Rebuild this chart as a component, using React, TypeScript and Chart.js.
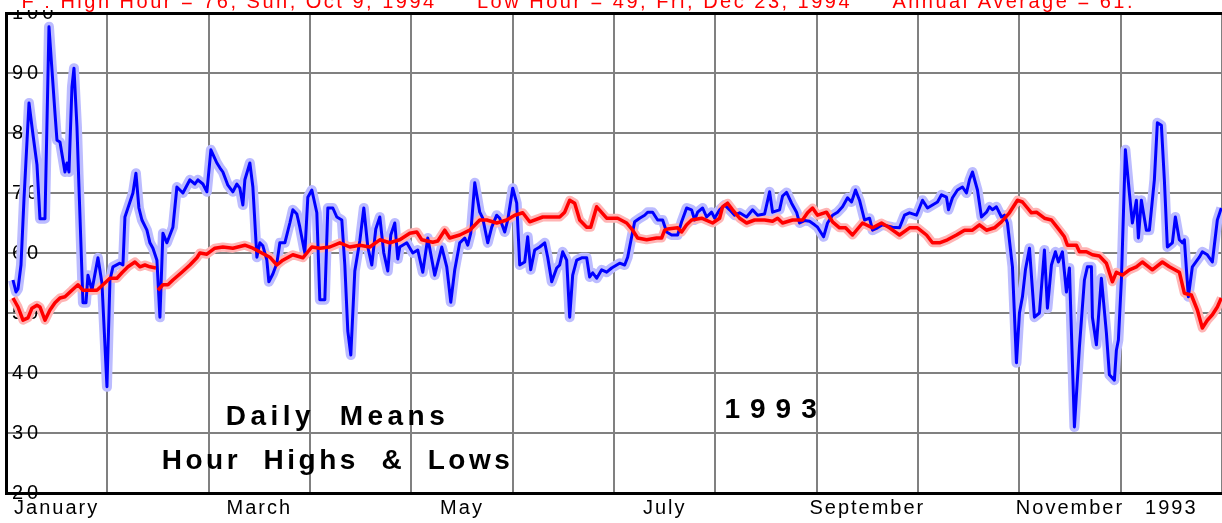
import React, { useEffect, useRef } from 'react';
import { Chart, registerables } from 'chart.js';

Chart.register(...registerables);

// ---------- data ----------
const monthLabels = ['January', '', 'March', '', 'May', '', 'July', '', 'September', '', 'November', '1993'];
const yMin = 20;
const yMax = 100;
const yStep = 10;
const daysInYear = 365;

const titleText =
  '°F : High Hour = 76, Sun, Oct 9, 1994     Low Hour = 49, Fri, Dec 23, 1994     Annual Average = 61.';

// daily means (blue) : day of year / temperature
const meanDays = [
  2.1, 3.0, 3.6, 4.5, 5.4, 6.9, 8.1, 9.3, 10.2, 11.7,
  12.9, 14.7, 15.3, 16.2, 17.1, 17.7, 18.3, 18.9, 19.8, 20.4,
  21.3, 21.9, 23.1, 24.0, 24.6, 25.8, 27.6, 28.8, 30.3, 31.2,
  32.1, 34.2, 35.1, 35.7, 37.2, 38.1, 39.0, 39.9, 40.8, 42.3,
  43.2, 44.1, 45.3, 46.2, 47.1, 48.3, 50.1, 51.3, 53.1, 55.2,
  56.7, 57.6, 59.1, 60.3, 61.5, 63.3, 64.2, 65.1, 66.6, 68.1,
  69.3, 70.2, 71.1, 71.7, 73.2, 74.1, 75.3, 76.2, 77.1, 78.3,
  78.9, 80.1, 81.3, 82.2, 83.7, 85.2, 86.1, 87.3, 88.2, 89.7,
  90.6, 91.8, 93.3, 94.2, 95.7, 96.6, 98.1, 99.3, 100.8, 101.7,
  102.6, 103.5, 104.7, 106.2, 107.4, 108.6, 109.8, 111.0, 112.2, 113.4,
  114.6, 115.5, 116.7, 117.6, 118.2, 120.3, 122.1, 123.6, 125.1, 126.6,
  128.7, 130.8, 132.3, 133.5, 134.7, 136.2, 137.7, 138.6, 139.5, 140.7,
  142.2, 143.1, 144.6, 145.8, 147.3, 148.2, 149.7, 150.6, 152.1, 153.3,
  154.2, 155.7, 156.6, 157.5, 158.7, 160.2, 161.7, 162.6, 163.8, 165.3,
  166.2, 167.1, 168.3, 169.2, 170.1, 171.3, 172.8, 174.3, 175.2, 176.1,
  177.3, 178.8, 180.3, 181.8, 183.3, 184.2, 185.7, 186.6, 187.8, 188.7,
  190.2, 191.7, 192.6, 194.1, 195.6, 197.1, 198.3, 199.8, 201.6, 202.8,
  204.3, 205.8, 206.7, 207.6, 209.1, 210.3, 211.8, 212.7, 214.2, 215.7,
  217.2, 218.7, 220.2, 222.3, 224.1, 225.6, 227.7, 229.2, 230.1, 232.2,
  233.1, 234.3, 235.8, 237.3, 238.2, 239.7, 241.2, 242.7, 243.6, 245.4,
  246.6, 248.1, 249.6, 251.1, 252.6, 253.8, 255.0, 256.2, 257.7, 259.2,
  260.1, 261.6, 263.1, 264.6, 266.1, 268.2, 269.7, 271.2, 273.3, 275.1,
  276.6, 278.1, 279.6, 280.8, 282.3, 282.9, 284.1, 285.6, 287.1, 288.3,
  289.2, 290.1, 291.6, 292.8, 294.3, 295.2, 296.1, 297.3, 298.8, 299.7,
  300.6, 302.1, 303.3, 304.2, 305.1, 306.0, 307.2, 308.7, 310.2, 311.7,
  312.6, 313.8, 315.0, 315.9, 317.1, 318.3, 319.2, 320.7, 322.2, 323.7,
  324.6, 325.8, 326.1, 327.3, 328.8, 330.3, 331.2, 332.7, 333.3, 333.9,
  334.8, 336.0, 337.2, 338.1, 339.3, 339.9, 340.8, 342.3, 343.2, 344.7,
  345.6, 346.8, 347.7, 348.6, 350.1, 351.0, 352.2, 353.1, 353.7, 354.9,
  356.1, 358.2, 359.1, 360.6, 362.1, 363.6, 364.8,
];
const meanTemps = [
  55.5, 53.5, 54, 58, 69, 85, 79.7, 74.7, 65.7, 65.7,
  97.7, 83.3, 78.8, 78.5, 75.5, 73.5, 75, 73.5, 87.7, 90.8,
  81, 71, 51.7, 51.7, 56.3, 53.8, 59.2, 55, 37.7, 55.5,
  57.7, 58.3, 58, 66, 68.5, 70, 73.3, 67.5, 65.5, 63.8,
  61.7, 60.8, 58.8, 49.3, 63.3, 61.7, 64.3, 71, 70, 72.2,
  71.5, 72.2, 71.5, 70.2, 77.2, 75, 74.2, 73.5, 71.3, 70.2,
  71.5, 70.8, 68, 72.2, 75, 71, 59.3, 61.7, 61.2, 58.8,
  55.2, 56.5, 58.3, 61.7, 61.7, 65, 67.2, 66.5, 64.3, 60,
  69.3, 70.5, 66.7, 52.2, 52.2, 67.5, 67.5, 66, 65.5, 58,
  47, 43, 57, 62, 67.5, 61, 58, 64, 66, 60,
  57, 63, 65, 59, 61, 61.7, 60, 60.5, 56.8, 62.5,
  56.3, 61, 57.7, 51.8, 57.2, 61.7, 62.5, 61.3, 63.3, 71.7,
  66.8, 65.8, 61.7, 64.3, 66.3, 65.8, 63.5, 65.5, 70.8, 68.3,
  58, 58.5, 62.7, 57.2, 60.5, 61, 61.7, 59.3, 55.2, 57.5,
  58, 60.2, 58.8, 49.3, 56.3, 58.8, 59.2, 59.2, 56, 56.7,
  55.8, 57.2, 56.8, 57.5, 58, 58.3, 58, 59.3, 62.7, 65.2,
  65.8, 66.3, 66.8, 66.8, 65.5, 65.5, 63.5, 63, 63, 65.2,
  67.5, 67.2, 65.5, 66.8, 67.5, 66, 66.8, 65.8, 67.2, 68,
  67.2, 66.3, 66.7, 66, 67.2, 66.3, 66.5, 70.2, 66.8, 67.2,
  69.5, 70.1, 68.3, 66.8, 65, 65.4, 65.3, 64.7, 64.3, 62.7,
  65, 66.3, 66.8, 67.7, 69.2, 68.5, 70.5, 68.8, 65.5, 65.8,
  63.8, 64.2, 64.7, 64.5, 64.3, 64.2, 66.3, 66.7, 66.3, 68.8,
  67.5, 68, 68.5, 69.7, 69.3, 67.2, 69.2, 70.5, 71, 70,
  72.2, 73.5, 70.5, 66, 66.8, 67.7, 67.2, 67.7, 66, 66.3,
  65, 57.7, 41.7, 50, 52.7, 57.2, 60.8, 49.3, 50, 60.5,
  50.8, 58, 60.2, 58.5, 60.2, 53.5, 57.5, 31, 44.3, 55.5,
  57.7, 57.7, 49.3, 44.7, 55.8, 46.7, 39.7, 38.8, 43.8, 45.5,
  55.5, 77.2, 70, 65, 68.8, 62.5, 68.8, 63.8, 63.8, 72.2,
  81.7, 81.3, 72.2, 61, 61.7, 66, 62.2, 61.7, 62.2, 52.7,
  57.7, 59.3, 60.2, 59.7, 58.5, 65.5, 67.5,
];

// running average (red) : day of year / temperature (null = break in the line)
const avgDays = [
  2.1, 3.6, 5.1, 6.6, 7.8, 9.3, 10.2, 11.7, 13.2, 14.7,
  16.2, 17.7, 19.8, 21.6, 23.1, 25.2, 27.3, 29.1, 31.2, 33.3,
  34.8, 36.6, 38.7, 40.2, 41.7, 43.2, 45.0, 45.3, 45.6, 47.1,
  48.6, 50.1, 52.8, 55.2, 57.3, 58.2, 60.3, 62.7, 65.1, 68.1,
  71.7, 74.1, 76.8, 79.2, 81.3, 83.1, 86.1, 89.1, 91.8, 94.2,
  97.2, 100.2, 103.2, 106.2, 109.2, 112.2, 115.2, 118.2, 121.2, 123.3,
  124.8, 128.1, 129.6, 131.7, 133.2, 136.2, 139.2, 142.2, 144.3, 147.3,
  150.3, 152.7, 155.1, 157.2, 161.1, 166.2, 167.7, 169.2, 170.7, 172.2,
  174.3, 175.5, 177.3, 180.3, 183.6, 186.3, 188.1, 189.6, 192.3, 195.3,
  196.8, 197.7, 198.6, 201.6, 202.8, 204.3, 205.8, 208.8, 212.1, 214.2,
  215.1, 216.6, 218.1, 220.2, 222.3, 224.7, 227.7, 230.1, 231.6, 233.1,
  236.1, 239.1, 240.6, 242.1, 243.6, 246.3, 248.1, 250.2, 252.0, 254.1,
  257.1, 260.1, 262.8, 265.2, 268.2, 271.2, 273.6, 276.3, 278.1, 280.2,
  282.6, 285.3, 287.7, 290.1, 292.2, 294.3, 296.7, 298.8, 301.2, 303.6,
  305.1, 306.6, 307.8, 309.3, 311.7, 313.8, 316.2, 317.7, 318.6, 321.3,
  322.2, 324.3, 326.1, 328.2, 330.3, 332.1, 333.3, 335.1, 337.2, 339.3,
  341.1, 344.1, 347.1, 349.2, 352.2, 353.7, 355.8, 357.6, 359.1, 360.6,
  362.1, 363.6, 364.8,
];
const avgTemps = [
  52.5, 51, 48.8, 49.2, 50.8, 51.3, 51, 48.8, 50.5, 51.7,
  52.5, 52.7, 53.8, 54.7, 53.8, 53.8, 53.8, 54.7, 55.8, 55.8,
  56.7, 57.7, 58.5, 57.7, 58, 57.7, 57.5, null, 53.8, 54.7,
  54.7, 55.5, 56.8, 58, 59.2, 60, 59.8, 60.8, 61, 60.8,
  61.3, 60.8, 60, 59.3, 58, 58.8, 59.7, 59.2, 61, 60.8,
  61, 61.7, 61, 61.3, 61, 62.2, 61.7, 62.2, 63.3, 63.5,
  62.2, 61.8, 62, 63.8, 62.5, 63, 63.8, 65.5, 65.5, 65,
  65.5, 66.3, 66.7, 65.2, 66, 66, 66.8, 68.8, 68.3, 65.5,
  64.3, 64.3, 67.7, 65.8, 65.8, 65, 63.8, 62.5, 62.2, 62.5,
  62.5, 63.8, 64, 64.2, 63.5, 64.7, 65.5, 65.8, 65, 65.8,
  67.7, 68.3, 67.2, 65.8, 65, 65.5, 65.5, 65.3, 65.8, 65,
  65.5, 65.5, 66.7, 67.5, 66.3, 66.8, 65.2, 64.2, 64.2, 63,
  65, 64.2, 65, 64.2, 63, 64.2, 64.2, 63, 61.7, 61.7,
  62.2, 63, 63.8, 63.8, 64.7, 63.8, 64.2, 65.2, 66.7, 68.8,
  68.5, 67.5, 66.7, 66.8, 65.8, 65.5, 63.8, 62.7, 61.3, 61.3,
  60.2, 60.2, 59.7, 59.5, 58.3, 55.2, 56.8, 56.3, 57.2, 57.7,
  58.5, 57.2, 58.5, 57.7, 56.8, 53.3, 53, 50.5, 47.5, 48.8,
  49.7, 51, 52.5,
];

// ---------- helpers ----------
const FONT = '"Liberation Sans", Arial, Helvetica, sans-serif';

const toPoints = (days: number[], vals: (number | null)[]) =>
  days.map((d, i) => ({ x: d, y: vals[i] }));

const spacingPatch = {
  id: 'spacingPatch',
  beforeDraw(chart: any) {
    const patch = (scale: any, spacing: string) => {
      if (!scale || scale.__spaced) return;
      const orig = scale.drawLabels.bind(scale);
      scale.drawLabels = (area: any) => {
        const c = scale.ctx;
        const prev = c.letterSpacing;
        c.letterSpacing = spacing;
        orig(area);
        c.letterSpacing = prev;
      };
      scale.__spaced = true;
    };
    patch(chart.scales.y, '4px');
    patch(chart.scales.months, '2px');
  },
};

const textPlugin = {
  id: 'textPlugin',
  afterDraw(chart: any) {
    const ctx = chart.ctx;
    const xs = chart.scales.x;
    const ys = chart.scales.y;
    ctx.save();
    // annotations
    ctx.fillStyle = '#000';
    ctx.textAlign = 'center';
    ctx.textBaseline = 'middle';
    ctx.font = `bold 28px ${FONT}`;
    ctx.letterSpacing = '4.5px';
    ctx.fillText('Daily  Means', xs.getPixelForValue(99.5), ys.getPixelForValue(32.7));
    ctx.letterSpacing = '3.5px';
    ctx.fillText('Hour  Highs  &  Lows', xs.getPixelForValue(99.5), ys.getPixelForValue(25.3));
    ctx.letterSpacing = '10px';
    ctx.fillText('1993', xs.getPixelForValue(231), ys.getPixelForValue(33.8));
    // title strip at the top
    ctx.fillStyle = '#fff';
    ctx.fillRect(0, 0, chart.width, 10);
    ctx.fillStyle = '#ff0000';
    ctx.textAlign = 'left';
    ctx.textBaseline = 'alphabetic';
    ctx.font = `20px ${FONT}`;
    ctx.letterSpacing = '2.5px';
    ctx.fillText(titleText, 11, 8);
    ctx.restore();
  },
};

const noPad = (s: any) => {
  s.paddingLeft = 0;
  s.paddingRight = 0;
  s.paddingTop = 0;
  s.paddingBottom = 0;
};

export default function App() {
  const ref = useRef<HTMLCanvasElement>(null);

  useEffect(() => {
    document.body.style.margin = '0';
    const canvas = ref.current!;
    const chart = new Chart(canvas, {
      type: 'line',
      data: {
        datasets: [
          {
            label: 'Average',
            data: toPoints(avgDays, avgTemps),
            borderColor: '#ff0000',
            borderWidth: 3.5,
            pointRadius: 0,
            tension: 0,
            borderJoinStyle: 'round',
            xAxisID: 'x',
            yAxisID: 'y',
          },
          {
            label: 'Daily Means',
            data: toPoints(meanDays, meanTemps),
            borderColor: '#0000ff',
            borderWidth: 3,
            pointRadius: 0,
            tension: 0,
            borderJoinStyle: 'round',
            xAxisID: 'x',
            yAxisID: 'y',
          },
          {
            label: 'Average band',
            data: toPoints(avgDays, avgTemps),
            borderColor: '#ffb4b4',
            borderWidth: 9,
            pointRadius: 0,
            tension: 0,
            borderJoinStyle: 'round',
            xAxisID: 'x',
            yAxisID: 'y',
          },
          {
            label: 'Hour band',
            data: toPoints(meanDays, meanTemps),
            borderColor: '#bcbcff',
            borderWidth: 10,
            pointRadius: 0,
            tension: 0,
            borderJoinStyle: 'round',
            xAxisID: 'x',
            yAxisID: 'y',
          },
        ] as any,
      },
      options: {
        responsive: false,
        animation: false,
        devicePixelRatio: 1,
        layout: { padding: { left: 6, top: 13, right: 0, bottom: 0 } },
        plugins: {
          legend: { display: false },
          tooltip: { enabled: false },
          title: { display: false },
        },
        scales: {
          x: {
            type: 'linear',
            position: 'bottom',
            weight: 0,
            min: 0,
            max: daysInYear,
            afterBuildTicks: (s: any) => {
              s.ticks = monthLabels.map((_, k) => ({ value: (k * daysInYear) / monthLabels.length }));
              s.ticks.push({ value: daysInYear });
            },
            afterFit: (s: any) => {
              noPad(s);
              s.height = 0;
            },
            ticks: { display: false },
            grid: { color: '#808080', lineWidth: 2, drawTicks: false },
            border: { color: '#000', width: 3 },
          },
          months: {
            type: 'category',
            position: 'bottom',
            weight: 1,
            labels: monthLabels,
            offset: true,
            afterFit: noPad,
            grid: { display: false, drawTicks: false },
            border: { display: false },
            ticks: {
              color: '#000',
              font: { family: FONT, size: 20 },
              padding: 3,
              autoSkip: false,
              maxRotation: 0,
            },
          },
          y: {
            type: 'linear',
            position: 'left',
            min: yMin,
            max: yMax,
            afterFit: (s: any) => {
              noPad(s);
              s.width = 0;
            },
            ticks: {
              stepSize: yStep,
              mirror: true,
              padding: 6,
              color: '#000',
              font: { family: FONT, size: 20 },
            },
            grid: {
              color: (c: any) => (c.tick && c.tick.value === yMax ? '#000' : '#808080'),
              lineWidth: (c: any) => (c.tick && c.tick.value === yMax ? 3 : 2),
              drawTicks: false,
            },
            border: { color: '#000', width: 3 },
          },
        } as any,
      },
      plugins: [spacingPatch, textPlugin],
    } as any);
    return () => chart.destroy();
  }, []);

  return (
    <div style={{ width: 1222, height: 523, background: '#fff' }}>
      <canvas ref={ref} width={1222} height={523} style={{ display: 'block' }} />
    </div>
  );
}
